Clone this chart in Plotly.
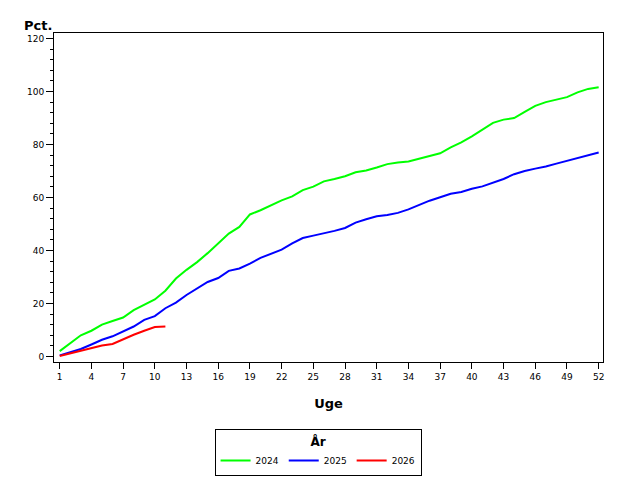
"""Cumulative percentage by week (Uge) for 2024-2026."""

import plotly.graph_objects as go

# ── Data ─────────────────────────────────────────────────────────────
weeks = list(range(1, 53))

pct_2024 = [
    2.0, 5.1, 8.0, 9.7, 12.0, 13.4, 14.7, 17.5, 19.6, 21.5,
    24.8, 29.4, 32.7, 35.6, 39.0, 42.6, 46.4, 48.9, 53.6, 55.2,
    57.2, 58.9, 60.4, 62.8, 64.1, 66.1, 67.0, 68.0, 69.5, 70.2,
    71.3, 72.6, 73.2, 73.6, 74.6, 75.6, 76.7, 78.9, 80.8, 83.1,
    85.7, 88.2, 89.4, 90.0, 92.3, 94.6, 96.0, 96.9, 97.9, 99.7,
    101.0, 101.6,
]
pct_2025 = [
    0.4, 1.6, 2.8, 4.5, 6.3, 7.6, 9.5, 11.3, 13.8, 15.2,
    18.2, 20.3, 23.2, 25.6, 28.1, 29.6, 32.3, 33.2, 35.0, 37.2,
    38.9, 40.3, 42.7, 44.7, 45.6, 46.4, 47.4, 48.5, 50.5, 51.8,
    52.9, 53.4, 54.2, 55.5, 57.2, 58.8, 60.1, 61.4, 62.1, 63.3,
    64.2, 65.7, 67.0, 68.8, 70.0, 70.9, 71.7, 72.8, 73.9, 74.8,
    76.0, 77.0,
]
weeks_2026 = list(range(1, 12))
pct_2026 = [0.2, 1.1, 2.2, 3.1, 4.1, 4.7, 6.6, 8.2, 9.7, 11.1, 11.3]

x_tick_vals = list(range(1, 53, 3))
y_tick_vals = [0, 20, 40, 60, 80, 100, 120]

FONT = "DejaVu Sans, Arial, sans-serif"

fig = go.Figure()

series = [
    ("2024", weeks, pct_2024, "#00ff00"),
    ("2025", weeks, pct_2025, "#0000ff"),
    ("2026", weeks_2026, pct_2026, "#ff0000"),
]
for name, xs, ys, color in series:
    fig.add_trace(
        go.Scatter(
            x=xs,
            y=ys,
            name=name,
            mode="lines",
            line={"color": color, "width": 2},
        )
    )

# ── Layout ───────────────────────────────────────────────────────────
# the page body adds an 8px offset, so margins are shifted to compensate
fig.update_layout(
    width=640,
    height=480,
    paper_bgcolor="white",
    plot_bgcolor="white",
    margin={"l": 46, "r": 45, "t": 25, "b": 122},
    font={"family": FONT, "size": 10, "color": "black"},
    legend={
        "orientation": "h",
        "x": 0.481,
        "xanchor": "center",
        "y": -0.205,
        "yanchor": "top",
        "bordercolor": "black",
        "borderwidth": 1,
        "bgcolor": "white",
        "title": {"text": "<b>År</b>", "side": "top center", "font": {"size": 12}},
        "font": {"size": 9},
        "itemwidth": 30,
        "tracegroupgap": 0,
    },
    annotations=[
        {
            "text": "<b>Pct.</b>",
            "x": 0,
            "y": 1,
            "xref": "paper",
            "yref": "paper",
            "xanchor": "right",
            "yanchor": "bottom",
            "xshift": 0,
            "yshift": -2,
            "showarrow": False,
            "font": {"size": 13},
        }
    ],
)
fig.update_xaxes(
    range=[0.46, 52.41],
    tickvals=x_tick_vals,
    ticks="outside",
    ticklen=6,
    tickcolor="black",
    showline=True,
    linecolor="black",
    linewidth=1,
    mirror=True,
    showgrid=False,
    zeroline=False,
    tickfont={"size": 9},
    title={"text": "<b>Uge</b>", "font": {"size": 13}, "standoff": 18},
)
fig.update_yaxes(
    range=[-2.1, 122.1],
    tickvals=y_tick_vals,
    ticks="outside",
    ticklen=7,
    tickcolor="black",
    minor={"dtick": 4, "ticks": "outside", "ticklen": 3, "tickcolor": "black", "showgrid": False},
    showline=True,
    linecolor="black",
    linewidth=1,
    mirror=True,
    showgrid=False,
    zeroline=False,
    tickfont={"size": 9},
)

fig.write_html("out.html")
